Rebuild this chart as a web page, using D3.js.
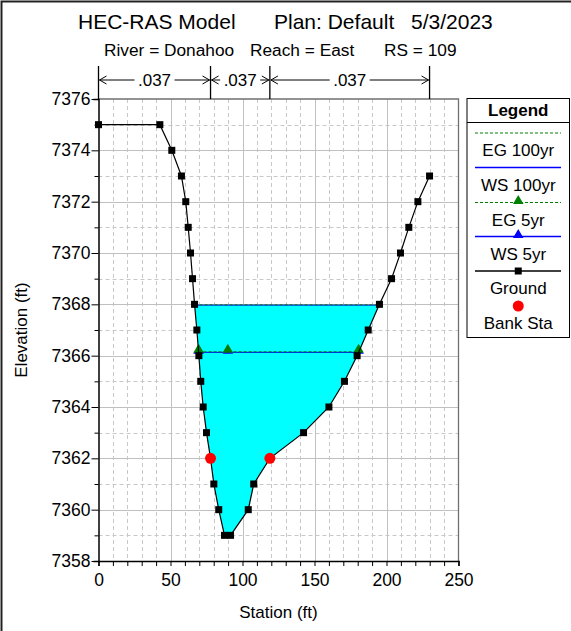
<!DOCTYPE html>
<html>
<head>
<meta charset="utf-8">
<script src="https://cdn.jsdelivr.net/npm/d3@7"></script>
<style>
  body { margin: 0; background: #fff; }
  text { font-family: "Liberation Sans", Arial, sans-serif; fill: #000; }
</style>
</head>
<body>
<div id="chart"></div>
<script>
// ground profile (station, elevation)
let groundSta = [0, 42.6, 50.9, 57.6, 60.6, 62.3, 63.9, 65.3, 66.7, 68.3, 69.7, 71.0, 72.7, 75.0, 77.8, 80.1, 83.5, 87.5, 91.7, 104.0, 107.8, 119.0, 142.4, 160.0, 170.8, 179.6, 187.3, 195.1, 203.5, 209.7, 215.5, 221.8, 229.9]
let groundElev = [7375, 7375, 7374, 7373, 7372, 7371, 7370, 7369, 7368, 7367, 7366, 7365, 7364, 7363, 7362, 7361, 7360, 7359, 7359, 7360, 7361, 7362, 7363, 7364, 7365, 7366, 7367, 7368, 7369, 7370, 7371, 7372, 7373]

let bankSta = [77.8, 119.0]
let bankElev = [7362, 7362]

let ws100 = 7367.97
let eg100 = 7367.98
let ws5 = 7366.13
let eg5 = 7366.15
let profileMarkSta = [89.8]

let nBreaks = [0, 77.8, 119.0, 229.9]
let nValues = [".037", ".037", ".037"]

let xTicks = [0, 50, 100, 150, 200, 250]
let yTicks = [7358, 7360, 7362, 7364, 7366, 7368, 7370, 7372, 7374, 7376]

let legendItems = ["EG 100yr", "WS 100yr", "EG 5yr", "WS 5yr", "Ground", "Bank Sta"]

let ground = groundSta.map((s, i) => ({sta: s, elev: groundElev[i]}))

let width = 571, height = 631
let margin = {top: 99, right: 113, bottom: 70, left: 98.5}
let fs = 17

let svg = d3.select('#chart').append('svg')
    .attr('width', width)
    .attr('height', height)

// outer frame
svg.append('rect')
    .attr('x', 1.5).attr('y', 1.5)
    .attr('width', width + 10).attr('height', height + 10)
    .attr('fill', 'none').attr('stroke', '#222').attr('stroke-width', 2)

let x = d3.scaleLinear().domain([0, 250]).range([margin.left, width - margin.right + 0.5])
let y = d3.scaleLinear().domain([7358, 7376]).range([height - margin.bottom, margin.top])

// grid
let grid = svg.append('g')
grid.selectAll('.vminor').data(d3.range(10, 250, 10).filter(d => d % 50 != 0)).enter()
    .append('line')
    .attr('x1', d => Math.round(x(d)) + 0.5).attr('x2', d => Math.round(x(d)) + 0.5)
    .attr('y1', y(7376)).attr('y2', y(7358))
    .attr('stroke', '#c8c8c8').attr('stroke-dasharray', '4,3')
grid.selectAll('.hminor').data(d3.range(7359, 7376, 2)).enter()
    .append('line')
    .attr('y1', d => Math.round(y(d)) + 0.5).attr('y2', d => Math.round(y(d)) + 0.5)
    .attr('x1', x(0)).attr('x2', x(250))
    .attr('stroke', '#c8c8c8').attr('stroke-dasharray', '4,3')
grid.selectAll('.vmajor').data([50, 100, 150, 200]).enter()
    .append('line')
    .attr('x1', d => Math.round(x(d)) + 0.5).attr('x2', d => Math.round(x(d)) + 0.5)
    .attr('y1', y(7376)).attr('y2', y(7358))
    .attr('stroke', '#c0c0c0')
grid.selectAll('.hmajor').data(d3.range(7360, 7376, 2)).enter()
    .append('line')
    .attr('y1', d => Math.round(y(d)) + 0.5).attr('y2', d => Math.round(y(d)) + 0.5)
    .attr('x1', x(0)).attr('x2', x(250))
    .attr('stroke', '#c0c0c0')

// water surface fill (ws100)
function crossings(level){
    let pts = []
    for (let i = 0; i < ground.length - 1; i++){
        let a = ground[i], b = ground[i+1]
        if ((a.elev - level) * (b.elev - level) < 0){
            let t = (level - a.elev) / (b.elev - a.elev)
            pts.push(a.sta + t * (b.sta - a.sta))
        }
    }
    return pts
}
let c100 = crossings(ws100)
let c5 = crossings(ws5)
let poly = [{sta: c100[0], elev: ws100}]
    .concat(ground.filter(d => d.sta > c100[0] && d.sta < c100[c100.length-1]))
    .concat([{sta: c100[c100.length-1], elev: ws100}])

svg.append('path')
    .datum(poly)
    .attr('fill', '#00ffff')
    .attr('d', d3.line().x(d => x(d.sta)).y(d => y(d.elev)))

// profile lines
function profileLine(level, cr, color, dash){
    svg.append('line')
        .attr('x1', x(cr[0])).attr('x2', x(cr[cr.length-1]))
        .attr('y1', y(level)).attr('y2', y(level))
        .attr('stroke', color).attr('stroke-width', 1)
        .attr('stroke-dasharray', dash)
}
profileLine(ws100, c100, '#0000ff', null)
profileLine(eg100, c100, '#008000', '3,2')
profileLine(ws5, c5, '#0000ff', null)
profileLine(eg5, c5, '#008000', '3,2')

let tri = d3.symbol().type(d3.symbolTriangle).size(48)
let markSta5 = [c5[0]].concat(profileMarkSta).concat([c5[c5.length-1]])
svg.selectAll('.ws5mk').data(markSta5).enter().append('path')
    .attr('d', tri)
    .attr('transform', d => `translate(${x(d)},${y(ws5) - 1.5})`)
    .attr('fill', '#0000ff')
svg.selectAll('.eg5mk').data(markSta5).enter().append('path')
    .attr('d', tri)
    .attr('transform', d => `translate(${x(d)},${y(eg5) - 2})`)
    .attr('fill', '#008000')

// ground
svg.append('path')
    .datum(ground)
    .attr('fill', 'none').attr('stroke', '#000').attr('stroke-width', 1.2)
    .attr('d', d3.line().x(d => x(d.sta)).y(d => y(d.elev)))
svg.selectAll('.gmk').data(ground).enter().append('rect')
    .attr('x', d => x(d.sta) - 3.5).attr('y', d => y(d.elev) - 3.5)
    .attr('width', 7).attr('height', 7)
    .attr('fill', '#000')

// bank stations
svg.selectAll('.bank').data(bankSta).enter().append('circle')
    .attr('cx', d => x(d)).attr('cy', (d, i) => y(bankElev[i]))
    .attr('r', 5.5).attr('fill', '#ff0000')

// plot frame top/right
svg.append('path')
    .attr('d', `M${x(0)},${y(7376)}H${x(250)}V${y(7358)}`)
    .attr('fill', 'none').attr('stroke', '#707070').attr('stroke-width', 1.3)

// axes
let xAxis = d3.axisBottom(x).tickValues(d3.range(0, 251, 10)).tickSize(5)
    .tickFormat(d => xTicks.includes(d) ? d : '')
let gx = svg.append('g').attr('transform', `translate(0,${y(7358)})`).call(xAxis)
gx.select('.domain').attr('stroke', '#000').attr('stroke-width', 1.5)
gx.selectAll('text').attr('font-size', 17.5).attr('dy', '0.95em').attr('font-family', '"Liberation Sans", Arial, sans-serif')

let yAxis = d3.axisLeft(y).tickValues(d3.range(7358, 7377, 1))
    .tickSize(5)
    .tickFormat(d => yTicks.includes(d) ? d : '')
let gy = svg.append('g').attr('transform', `translate(${x(0)},0)`).call(yAxis)
gy.select('.domain').attr('stroke', '#000').attr('stroke-width', 1.5)
gy.selectAll('.tick line').attr('x2', d => yTicks.includes(d) ? -7 : -4)
gy.selectAll('text').attr('font-size', 17.5).attr('x', -8).attr('font-family', '"Liberation Sans", Arial, sans-serif')

svg.append('text').attr('x', (x(0) + x(250)) / 2).attr('y', 618)
    .attr('text-anchor', 'middle').attr('font-size', fs).text('Station (ft)')
svg.append('text').attr('transform', `translate(27,${(y(7358) + y(7376)) / 2}) rotate(-90)`)
    .attr('text-anchor', 'middle').attr('font-size', fs).text('Elevation (ft)')

// titles
let title = [["HEC-RAS Model", 78], ["Plan: Default", 274], ["5/3/2023", 411]]
svg.selectAll('.title').data(title).enter().append('text')
    .attr('x', d => d[1]).attr('y', 29)
    .attr('font-size', 21).text(d => d[0])
let sub = [["River = Donahoo", 104], ["Reach = East", 250], ["RS = 109", 384]]
svg.selectAll('.sub').data(sub).enter().append('text')
    .attr('x', d => d[1]).attr('y', 56)
    .attr('font-size', 17.3).text(d => d[0])

// manning's n
let nG = svg.append('g')
nG.selectAll('.nb').data(nBreaks).enter().append('line')
    .attr('x1', d => x(d)).attr('x2', d => x(d))
    .attr('y1', 66).attr('y2', y(7376))
    .attr('stroke', '#000').attr('stroke-width', 1.3)
let ay = 80
nValues.forEach((v, i) => {
    let a = x(nBreaks[i]), b = x(nBreaks[i+1]), m = (a + b) / 2
    let tw = 32
    nG.append('text').attr('x', m).attr('y', ay + 6).attr('text-anchor', 'middle')
        .attr('font-size', fs).text(v)
    nG.append('path')
        .attr('d', `M${a + 1},${ay}H${m - tw / 2 - 4}M${m + tw / 2 + 4},${ay}H${b - 1}` +
            `M${a + 8},${ay - 4}L${a + 1},${ay}L${a + 8},${ay + 4}` +
            `M${b - 8},${ay - 4}L${b - 1},${ay}L${b - 8},${ay + 4}`)
        .attr('fill', 'none').attr('stroke', '#000').attr('stroke-width', 1)
})

// legend
let lg = svg.append('g')
let lx0 = 467, lx1 = 569.5
lg.append('rect').attr('x', lx0).attr('y', 98.5).attr('width', lx1 - lx0).attr('height', 239)
    .attr('fill', '#fff').attr('stroke', '#000').attr('stroke-width', 1)
lg.append('line').attr('x1', lx0).attr('x2', lx1).attr('y1', 122.5).attr('y2', 122.5)
    .attr('stroke', '#000')
lg.append('text').attr('x', (lx0 + lx1) / 2).attr('y', 116).attr('text-anchor', 'middle')
    .attr('font-size', fs).attr('font-weight', 'bold').text('Legend')
let lineY = [133, 167.5, 202.5, 236.5, 271, 306]
let cx = (lx0 + lx1) / 2
legendItems.forEach((name, i) => {
    let ly = lineY[i]
    if (i < 5){
        let color = name.startsWith('EG') ? '#008000' : (name.startsWith('WS') ? '#0000ff' : '#000')
        lg.append('line').attr('x1', 475).attr('x2', 561).attr('y1', ly).attr('y2', ly)
            .attr('stroke', color).attr('stroke-width', name.startsWith('EG') ? 1 : 1.3)
            .attr('stroke-dasharray', name.startsWith('EG') ? '3,2' : null)
    }
    if (i == 2 || i == 3){
        lg.append('path').attr('d', tri).attr('transform', `translate(${cx},${ly - 1.5})`)
            .attr('fill', i == 2 ? '#008000' : '#0000ff')
    }
    if (i == 4){
        lg.append('rect').attr('x', cx - 3.5).attr('y', ly - 3.5).attr('width', 7).attr('height', 7).attr('fill', '#000')
    }
    if (i == 5){
        lg.append('circle').attr('cx', cx).attr('cy', ly).attr('r', 5.5).attr('fill', '#ff0000')
    }
    lg.append('text').attr('x', cx).attr('y', ly + 23).attr('text-anchor', 'middle')
        .attr('font-size', fs).text(name)
})
</script>
</body>
</html>
